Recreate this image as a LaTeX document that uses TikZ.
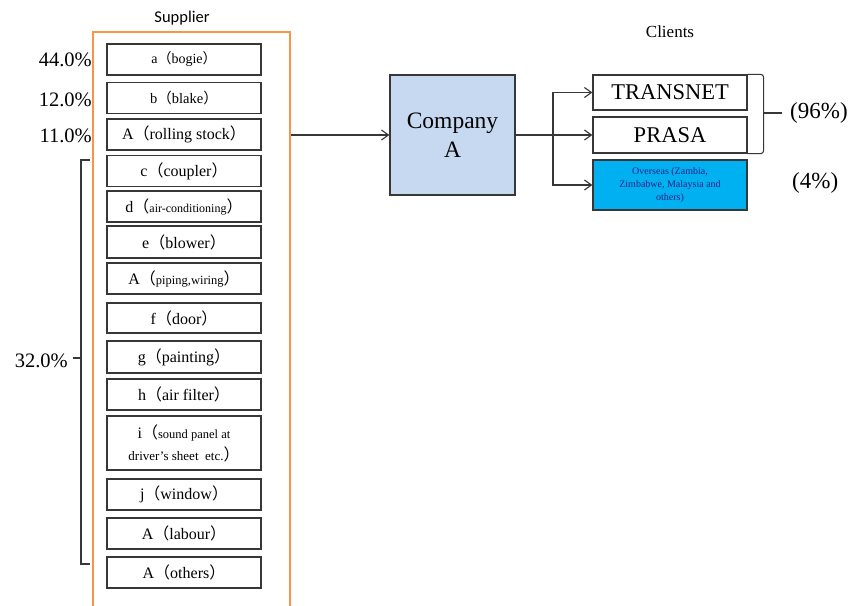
\documentclass[tikz,border=0pt]{standalone}
\usepackage{fontspec}
\setmainfont{Liberation Serif}
\newfontfamily\labelfont{Carlito}
\newfontfamily\cjkfont{Noto Sans CJK SC}
\usetikzlibrary{arrows.meta, positioning}
\definecolor{frameorange}{RGB}{247,150,70}
\definecolor{edge}{RGB}{55,55,55}
\definecolor{companyblue}{RGB}{198,217,241}
\definecolor{overseasblue}{RGB}{0,176,240}
\newcommand{\setsize}[1]{\fontsize{#1}{#1}\selectfont}
\newcommand{\lpar}{{\cjkfont （}}
\newcommand{\rpar}{{\cjkfont ）}}
\tikzset{
  part/.style={draw=edge, line width=1.3pt, minimum width=154, minimum height=31,
    inner sep=0pt, font=\setsize{16}},
  share/.style={anchor=east, inner sep=0pt, font=\setsize{20.5}},
  client/.style={draw=edge, line width=1.3pt, minimum width=154, inner sep=0pt,
    font=\setsize{22.5}},
  link/.style={draw=edge, line width=1.1pt, ->},
}

\begin{document}
\begin{tikzpicture}[x=1pt, y=-1pt, >={Straight Barb[length=7pt, width=10pt]}]
  \useasboundingbox (0,0) rectangle (856,605);
  \fill[white] (0,0) rectangle (856,605);

  % Supplier frame, runs off the bottom
  \node[draw=frameorange, line width=1.5pt, minimum width=197, minimum height=600,
    inner sep=0pt] (frame) at (191.5,332) {};
  \node[font=\labelfont\setsize{16.5}] (suptitle) at (182,18) {Supplier};

  % Parts
  \node[part, font=\setsize{14}] (bogie) at (184,59.5) {a\lpar bogie\rpar};
  \node[part, font=\setsize{14.5}] (blake) at (184,98) {b\lpar blake\rpar};
  \node[part] (stock) at (184,134.5) {A\lpar rolling stock\rpar};
  \node[part] (coupler) at (184,171) {c\lpar coupler\rpar};
  \node[part] (aircon) at (184,206.5) {d\lpar{\setsize{12}air-conditioning}\rpar};
  \node[part, minimum height=32] (blower) at (184,242) {e\lpar blower\rpar};
  \node[part] (piping) at (184,278.5) {A\lpar{\setsize{12.5}piping,wiring}\rpar};
  \node[part, minimum height=30] (door) at (184,318) {f\lpar door\rpar};
  \node[part, minimum height=32] (painting) at (184,357) {g\lpar painting\rpar};
  \node[part] (filter) at (184,394.5) {h\lpar air filter\rpar};
  \node[part, minimum height=54, align=center, font=\fontsize{16}{22}\selectfont] (panel)
    at (184,443) {i\lpar{\setsize{12.5}sound panel at}\\{\setsize{13}driver's sheet\ \ etc.}\rpar};
  \node[part] (window) at (184,494.5) {j\lpar window\rpar};
  \node[part] (labour) at (184,533.5) {A\lpar labour\rpar};
  \node[part] (others) at (184,572.5) {A\lpar others\rpar};

  % Shares
  \node[share] (pbogie) at (92,60) {44.0\%};
  \node[share] (pblake) at (92,100) {12.0\%};
  \node[share] (pstock) at (92,136) {11.0\%};
  \draw[edge, line width=1.3pt] (90,160) -- (81,160) -- (81,564) -- (90,564);
  \draw[edge, line width=1.3pt] (81,358) -- (73,358);
  \node[share] (prest) at (68,361) {32.0\%};

  % Company
  \node[draw=edge, fill=companyblue, line width=1.3pt, minimum width=125,
    minimum height=120, align=center, font=\fontsize{23.5}{29}\selectfont] (company)
    at (452.5,135) {Company\\A};
  \draw[link] (company.west -| frame.east) -- (company.west);

  % Clients
  \node[font=\setsize{17}] (clients) at (670,32) {Clients};
  \node[client, minimum height=35] (transnet) at (670,92.5) {TRANSNET};
  \node[client, minimum height=36] (prasa) at (670,135) {PRASA};
  \node[client, fill=overseasblue, minimum height=50, align=center,
    font=\fontsize{10}{13}\selectfont, text=edge!60!blue] (overseas) at (670,185)
    {Overseas (Zambia,\\Zimbabwe, Malaysia and\\others)};

  \coordinate (split) at (553,135);
  \draw[edge, line width=1.1pt] (company.east) -- (split);
  \draw[link] (split) |- (transnet.west);
  \draw[link] (split) -- (prasa.west);
  \draw[link] (split) |- (overseas.west);

  % Brace over domestic clients
  \draw[edge, line width=1.1pt, rounded corners=3pt]
    (transnet.north east) -- ++(16,0) |- (prasa.south east);
  \draw[edge, line width=1.1pt] (763,113) -- (782,113);
  \node[anchor=west, inner sep=0pt, font=\setsize{23}] (pdomestic) at (790,113) {(96\%)};
  \node[anchor=west, inner sep=0pt, font=\setsize{23}] (poverseas) at (792,183) {(4\%)};
\end{tikzpicture}
\end{document}
